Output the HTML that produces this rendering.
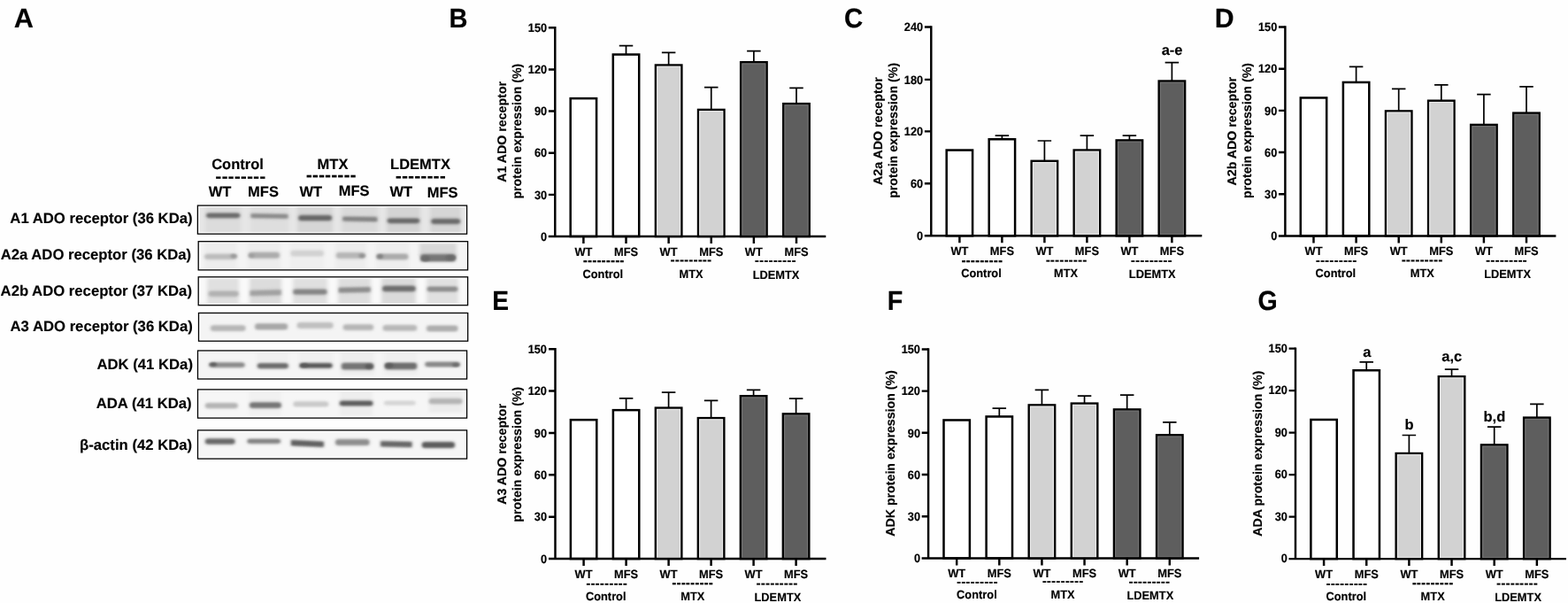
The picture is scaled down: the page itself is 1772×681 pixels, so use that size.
<!DOCTYPE html>
<html lang="en">
<head>
<meta charset="utf-8">
<title>Figure</title>
<style>
html,body{margin:0;padding:0;background:#fefefe;}
body{width:1772px;height:681px;overflow:hidden;}
svg{display:block;}
text{font-family:"Liberation Sans", sans-serif;font-weight:bold;fill:#000;text-rendering:geometricPrecision;stroke:#000;stroke-width:0.15px;stroke-linejoin:round;}
.ds,.hds{stroke:none;}
.tk{font-size:12.9px;}
.tl{font-size:12.8px;}
.ds{font-size:15.6px;}
.gp{font-size:12.85px;}
.yl{font-size:14.2px;}
.an{font-size:16.5px;}
.pl{font-size:29.5px;}
.bl{font-size:16.7px;}
.hd{font-size:16.5px;}
.hds{font-size:21.4px;}
</style>
</head>
<body>
<svg width="1772" height="681" viewBox="0 0 1772 681">
<rect width="1772" height="681" fill="#fefefe"/>
<defs>
<filter id="b1" x="-20%" y="-150%" width="140%" height="400%"><feGaussianBlur stdDeviation="1.8 1.25"/></filter>
<filter id="b2" x="-30%" y="-30%" width="160%" height="160%"><feGaussianBlur stdDeviation="2.2 1.6"/></filter>
<filter id="b4" x="-20%" y="-150%" width="140%" height="400%"><feGaussianBlur stdDeviation="2.0 1.8"/></filter>
<filter id="b3" x="-50%" y="-50%" width="200%" height="200%"><feGaussianBlur stdDeviation="1.4 0.9"/></filter>
<clipPath id="cp0"><rect x="225.4" y="234.1" width="300.2" height="28.1"/></clipPath>
<clipPath id="cp1"><rect x="226.2" y="274.7" width="300.4" height="28.2"/></clipPath>
<clipPath id="cp2"><rect x="226.2" y="314.8" width="300.4" height="27.9"/></clipPath>
<clipPath id="cp3"><rect x="226.5" y="355.5" width="300.2" height="27.7"/></clipPath>
<clipPath id="cp4"><rect x="225.5" y="398" width="300.1" height="28"/></clipPath>
<clipPath id="cp5"><rect x="225.5" y="441.9" width="300.1" height="28.2"/></clipPath>
<clipPath id="cp6"><rect x="225.5" y="487.9" width="300.1" height="28.2"/></clipPath>
</defs>
<g id="panelA">
<text class="pl" transform="translate(15.75 30.8) scale(1.041 1.04)">A</text>
<text class="hd" transform="translate(268.5 191) scale(1 1.01)" text-anchor="middle">Control</text>
<text class="hd" transform="translate(376 191) scale(1 1.01)" text-anchor="middle">MTX</text>
<text class="hd" transform="translate(475 191) scale(1 1.01)" text-anchor="middle">LDEMTX</text>
<text class="hds" transform="translate(271.8 206) scale(1 0.966)" text-anchor="middle">--------</text>
<text class="hds" transform="translate(374.2 205) scale(1 1.073)" text-anchor="middle">--------</text>
<text class="hds" transform="translate(475.3 206) scale(1 1.038)" text-anchor="middle">--------</text>
<text class="hd" transform="translate(248.6 222) scale(1 1.01)" text-anchor="middle">WT</text>
<text class="hd" transform="translate(297.5 222) scale(1 1.01)" text-anchor="middle">MFS</text>
<text class="hd" transform="translate(351.3 222) scale(1 1.01)" text-anchor="middle">WT</text>
<text class="hd" transform="translate(400.1 221) scale(1 1.01)" text-anchor="middle">MFS</text>
<text class="hd" transform="translate(453.3 222) scale(1 1.01)" text-anchor="middle">WT</text>
<text class="hd" transform="translate(500.1 223) scale(1 1.01)" text-anchor="middle">MFS</text>
<text class="bl" transform="translate(217.55 251.7) scale(1 1.0)" text-anchor="end">A1 ADO receptor (36 KDa)</text>
<rect x="223.4" y="232.1" width="304.2" height="32.1" fill="#fdfdfd"/>
<rect x="225.4" y="234.1" width="300.2" height="28.1" fill="#e6e6e6"/>
<g clip-path="url(#cp0)">
<g filter="url(#b2)">
<rect x="232" y="233.1" width="40" height="30.1" fill="#dcdcdc"/>
<rect x="283" y="233.1" width="43" height="30.1" fill="#dedede"/>
<rect x="336" y="233.1" width="40" height="30.1" fill="#d6d6d6"/>
<rect x="386" y="233.1" width="41" height="30.1" fill="#dadada"/>
<rect x="437" y="233.1" width="38" height="30.1" fill="#d4d4d4"/>
<rect x="486" y="233.1" width="35" height="30.1" fill="#d6d6d6"/>
</g>
<g filter="url(#b4)" opacity="0.4">
<rect x="233.4" y="239.7" width="37.6" height="7.2" rx="2.5" fill="#6c6c6c"/>
<path d="M283.8 240.4L325.2 241L325.2 247.6L283.8 247Z" fill="#8c8c8c"/>
<rect x="337.6" y="242.2" width="37.1" height="7.8" rx="2.5" fill="#666666"/>
<path d="M387.6 243.7L426.1 244.3L426.1 251.1L387.6 250.5Z" fill="#848484"/>
<rect x="438" y="245.7" width="35.9" height="7.2" rx="2.5" fill="#6a6a6a"/>
<rect x="487.6" y="246.2" width="32.2" height="7.6" rx="2.5" fill="#6a6a6a"/>
</g>
<g filter="url(#b1)">
<rect x="233.4" y="240.9" width="37.6" height="4.8" rx="2.4" fill="#6c6c6c"/>
<path d="M283.8 241.6L325.2 242.2L325.2 246.4L283.8 245.8Z" fill="#8c8c8c"/>
<rect x="337.6" y="243.4" width="37.1" height="5.4" rx="2.5" fill="#666666"/>
<path d="M387.6 244.9L426.1 245.5L426.1 249.9L387.6 249.3Z" fill="#848484"/>
<rect x="438" y="246.9" width="35.9" height="4.8" rx="2.4" fill="#6a6a6a"/>
<rect x="487.6" y="247.4" width="32.2" height="5.2" rx="2.5" fill="#6a6a6a"/>
</g>
</g>
<rect x="223.4" y="232.1" width="304.2" height="32.1" fill="none" stroke="#000" stroke-width="1.3"/>
<text class="bl" transform="translate(216.15 293.3) scale(1 1.0)" text-anchor="end">A2a ADO receptor (36 KDa)</text>
<rect x="224.2" y="272.7" width="304.4" height="32.2" fill="#fdfdfd"/>
<rect x="226.2" y="274.7" width="300.4" height="28.2" fill="#f4f4f4"/>
<g clip-path="url(#cp1)">
<g filter="url(#b2)">
<rect x="231" y="273.7" width="37" height="30.2" fill="#ededed"/>
<rect x="280" y="273.7" width="37" height="30.2" fill="#ededed"/>
<rect x="328" y="273.7" width="38" height="30.2" fill="#efefef"/>
<rect x="379" y="273.7" width="35" height="30.2" fill="#ededed"/>
<rect x="425" y="273.7" width="37" height="30.2" fill="#eeeeee"/>
<rect x="474" y="275" width="42" height="15" fill="#d8d8d8"/>
</g>
<g filter="url(#b4)" opacity="0.4">
<rect x="231.5" y="286" width="35.8" height="7.6" rx="2.5" fill="#bcbcbc"/>
<rect x="281.1" y="284.1" width="34.5" height="8.4" rx="2.5" fill="#acacac"/>
<rect x="328.8" y="282" width="36.7" height="8.2" rx="2.5" fill="#d2d2d2"/>
<rect x="380.2" y="284.3" width="32.2" height="8.4" rx="2.5" fill="#b6b6b6"/>
<rect x="425.8" y="285.7" width="35.2" height="8.2" rx="2.5" fill="#ababab"/>
<rect x="475.5" y="286.3" width="39" height="10" rx="2.5" fill="#767676"/>
</g>
<g filter="url(#b1)">
<rect x="231.5" y="287.2" width="35.8" height="5.2" rx="2.5" fill="#bcbcbc"/>
<rect x="281.1" y="285.3" width="34.5" height="6" rx="2.5" fill="#acacac"/>
<rect x="328.8" y="283.2" width="36.7" height="5.8" rx="2.5" fill="#d2d2d2"/>
<rect x="380.2" y="285.5" width="32.2" height="6" rx="2.5" fill="#b6b6b6"/>
<rect x="425.8" y="286.9" width="35.2" height="5.8" rx="2.5" fill="#ababab"/>
<rect x="475.5" y="287.5" width="39" height="7.6" rx="2.5" fill="#767676"/>
</g>
<g filter="url(#b3)">
<ellipse cx="264" cy="289.2" rx="3.5" ry="2.4" fill="#9a9a9a"/>
<ellipse cx="284.5" cy="288.6" rx="3" ry="2.2" fill="#9c9c9c"/>
<ellipse cx="409" cy="288.8" rx="3.5" ry="2.4" fill="#909090"/>
<ellipse cx="429.5" cy="289.5" rx="3.5" ry="2.6" fill="#808080"/>
<ellipse cx="509" cy="291" rx="6" ry="3" fill="#6a6a6a"/>
<ellipse cx="481" cy="292" rx="5" ry="3" fill="#6a6a6a"/>
</g>
</g>
<rect x="224.2" y="272.7" width="304.4" height="32.2" fill="none" stroke="#000" stroke-width="1.3"/>
<text class="bl" transform="translate(216.95 333.7) scale(1 1.0)" text-anchor="end">A2b ADO receptor (37 KDa)</text>
<rect x="224.2" y="312.8" width="304.4" height="31.9" fill="#fdfdfd"/>
<rect x="226.2" y="314.8" width="300.4" height="27.9" fill="#f9f9f9"/>
<g clip-path="url(#cp2)">
<g filter="url(#b2)">
<rect x="234" y="313.8" width="36" height="29.9" fill="#e0e0e0"/>
<rect x="282" y="313.8" width="36" height="29.9" fill="#dcdcdc"/>
<rect x="331" y="313.8" width="39" height="29.9" fill="#e0e0e0"/>
<rect x="382" y="313.8" width="37" height="29.9" fill="#dedede"/>
<rect x="431" y="313.8" width="39" height="29.9" fill="#dadada"/>
<rect x="482" y="313.8" width="36" height="29.9" fill="#e0e0e0"/>
</g>
<g filter="url(#b4)" opacity="0.4">
<rect x="236.1" y="327.9" width="33.1" height="7.8" rx="2.5" fill="#b2b2b2"/>
<path d="M282.9 327.2L317.4 326.4L317.4 334.2L282.9 335Z" fill="#a2a2a2"/>
<rect x="331.6" y="325.8" width="37.6" height="7.6" rx="2.5" fill="#868686"/>
<path d="M383 324L418.4 323.4L418.4 330.8L383 331.4Z" fill="#8e8e8e"/>
<rect x="432.5" y="322" width="36.8" height="8" rx="2.5" fill="#6e6e6e"/>
<rect x="483" y="322.9" width="34" height="7.2" rx="2.5" fill="#8e8e8e"/>
</g>
<g filter="url(#b1)">
<rect x="236.1" y="329.1" width="33.1" height="5.4" rx="2.5" fill="#b2b2b2"/>
<path d="M282.9 328.4L317.4 327.6L317.4 333L282.9 333.8Z" fill="#a2a2a2"/>
<rect x="331.6" y="327" width="37.6" height="5.2" rx="2.5" fill="#868686"/>
<path d="M383 325.2L418.4 324.6L418.4 329.6L383 330.2Z" fill="#8e8e8e"/>
<rect x="432.5" y="323.2" width="36.8" height="5.6" rx="2.5" fill="#6e6e6e"/>
<rect x="483" y="324.1" width="34" height="4.8" rx="2.4" fill="#8e8e8e"/>
</g>
</g>
<rect x="224.2" y="312.8" width="304.4" height="31.9" fill="none" stroke="#000" stroke-width="1.3"/>
<text class="bl" transform="translate(217.75 374.1) scale(1 1.0)" text-anchor="end">A3 ADO receptor (36 KDa)</text>
<rect x="224.5" y="353.5" width="304.2" height="31.7" fill="#fdfdfd"/>
<rect x="226.5" y="355.5" width="300.2" height="27.7" fill="#f4f4f4"/>
<g clip-path="url(#cp3)">
<g filter="url(#b2)">
</g>
<g filter="url(#b4)" opacity="0.4">
<rect x="238.3" y="366.6" width="38.8" height="8" rx="2.5" fill="#b6b6b6"/>
<rect x="288.5" y="364.5" width="36.2" height="8.6" rx="2.5" fill="#a8a8a8"/>
<rect x="336" y="363.2" width="40.2" height="8.6" rx="2.5" fill="#c0c0c0"/>
<rect x="388.1" y="365.5" width="33.6" height="8.2" rx="2.5" fill="#b6b6b6"/>
<rect x="433" y="366.3" width="37.8" height="8.2" rx="2.5" fill="#b8b8b8"/>
<rect x="482.4" y="366.7" width="34.7" height="8.4" rx="2.5" fill="#aeaeae"/>
</g>
<g filter="url(#b1)">
<rect x="238.3" y="367.8" width="38.8" height="5.6" rx="2.5" fill="#b6b6b6"/>
<rect x="288.5" y="365.7" width="36.2" height="6.2" rx="2.5" fill="#a8a8a8"/>
<rect x="336" y="364.4" width="40.2" height="6.2" rx="2.5" fill="#c0c0c0"/>
<rect x="388.1" y="366.7" width="33.6" height="5.8" rx="2.5" fill="#b6b6b6"/>
<rect x="433" y="367.5" width="37.8" height="5.8" rx="2.5" fill="#b8b8b8"/>
<rect x="482.4" y="367.9" width="34.7" height="6" rx="2.5" fill="#aeaeae"/>
</g>
</g>
<rect x="224.5" y="353.5" width="304.2" height="31.7" fill="none" stroke="#000" stroke-width="1.3"/>
<text class="bl" transform="translate(217.95 417) scale(1 1.0)" text-anchor="end">ADK (41 KDa)</text>
<rect x="223.5" y="396" width="304.1" height="32" fill="#fdfdfd"/>
<rect x="225.5" y="398" width="300.1" height="28" fill="#f5f5f5"/>
<g clip-path="url(#cp4)">
<g filter="url(#b2)">
<rect x="290" y="397" width="36" height="13" fill="#f0f0f0"/>
<rect x="338" y="397" width="38" height="13" fill="#f0f0f0"/>
<rect x="385" y="397" width="38" height="27" fill="#eeeeee"/>
<rect x="434" y="397" width="38" height="27" fill="#efefef"/>
</g>
<g filter="url(#b4)" opacity="0.4">
<rect x="236.7" y="408.6" width="39.6" height="7.2" rx="2.5" fill="#8a8a8a"/>
<rect x="291.1" y="409.4" width="34.4" height="7.6" rx="2.5" fill="#6c6c6c"/>
<rect x="338.7" y="409.3" width="36.7" height="7.2" rx="2.5" fill="#585858"/>
<rect x="386.2" y="409" width="35.5" height="9.2" rx="2.5" fill="#747474"/>
<rect x="435.1" y="408.9" width="35.7" height="9" rx="2.5" fill="#6e6e6e"/>
<rect x="480.6" y="407.9" width="38.8" height="7.2" rx="2.5" fill="#8a8a8a"/>
</g>
<g filter="url(#b1)">
<rect x="236.7" y="409.8" width="39.6" height="4.8" rx="2.4" fill="#8a8a8a"/>
<rect x="291.1" y="410.6" width="34.4" height="5.2" rx="2.5" fill="#6c6c6c"/>
<rect x="338.7" y="410.5" width="36.7" height="4.8" rx="2.4" fill="#585858"/>
<rect x="386.2" y="410.2" width="35.5" height="6.8" rx="2.5" fill="#747474"/>
<rect x="435.1" y="410.1" width="35.7" height="6.6" rx="2.5" fill="#6e6e6e"/>
<rect x="480.6" y="409.1" width="38.8" height="4.8" rx="2.4" fill="#8a8a8a"/>
</g>
<g filter="url(#b3)">
<ellipse cx="241" cy="411.6" rx="4" ry="2" fill="#5a5a5a"/>
<ellipse cx="344" cy="412.6" rx="4" ry="2" fill="#585858"/>
<ellipse cx="417" cy="413.8" rx="4.5" ry="2.6" fill="#5a5a5a"/>
<ellipse cx="440" cy="412.8" rx="4.5" ry="2.6" fill="#5c5c5c"/>
<ellipse cx="515" cy="412" rx="4" ry="2" fill="#6a6a6a"/>
</g>
</g>
<rect x="223.5" y="396" width="304.1" height="32" fill="none" stroke="#000" stroke-width="1.3"/>
<text class="bl" transform="translate(216.6 460.55) scale(1 1.0)" text-anchor="end">ADA (41 KDa)</text>
<rect x="223.5" y="439.9" width="304.1" height="32.2" fill="#fdfdfd"/>
<rect x="225.5" y="441.9" width="300.1" height="28.2" fill="#f6f6f6"/>
<g clip-path="url(#cp5)">
<g filter="url(#b2)">
<rect x="281" y="441" width="37" height="29" fill="#f1f1f1"/>
<rect x="384" y="441" width="37" height="29" fill="#eeeeee"/>
<rect x="485" y="441" width="38" height="25" fill="#ececec"/>
</g>
<g filter="url(#b4)" opacity="0.4">
<rect x="232.2" y="454.3" width="36.2" height="7.6" rx="2.5" fill="#b4b4b4"/>
<rect x="282.4" y="453.6" width="35.1" height="8" rx="2.5" fill="#767676"/>
<rect x="331.8" y="452.5" width="39.1" height="7.6" rx="2.5" fill="#cacaca"/>
<rect x="384.1" y="451.7" width="37" height="7.4" rx="2.5" fill="#5e5e5e"/>
<rect x="434.3" y="451.9" width="34.9" height="6.6" rx="2.5" fill="#d6d6d6"/>
<rect x="485.1" y="449.3" width="37" height="7.6" rx="2.5" fill="#b4b4b4"/>
</g>
<g filter="url(#b1)">
<rect x="232.2" y="455.5" width="36.2" height="5.2" rx="2.5" fill="#b4b4b4"/>
<rect x="282.4" y="454.8" width="35.1" height="5.6" rx="2.5" fill="#767676"/>
<rect x="331.8" y="453.7" width="39.1" height="5.2" rx="2.5" fill="#cacaca"/>
<rect x="384.1" y="452.9" width="37" height="5" rx="2.5" fill="#5e5e5e"/>
<rect x="434.3" y="453.1" width="34.9" height="4.2" rx="2.1" fill="#d6d6d6"/>
<rect x="485.1" y="450.5" width="37" height="5.2" rx="2.5" fill="#b4b4b4"/>
</g>
</g>
<rect x="223.5" y="439.9" width="304.1" height="32.2" fill="none" stroke="#000" stroke-width="1.3"/>
<text class="bl" transform="translate(217.1 507.5) scale(1 1.0)" text-anchor="end">β-actin (42 KDa)</text>
<rect x="223.5" y="485.9" width="304.1" height="32.2" fill="#fdfdfd"/>
<rect x="225.5" y="487.9" width="300.1" height="28.2" fill="#f6f6f6"/>
<g clip-path="url(#cp6)">
<g filter="url(#b2)">
</g>
<g filter="url(#b4)" opacity="0.4">
<rect x="232.2" y="494.6" width="33" height="7.8" rx="2.5" fill="#6a6a6a"/>
<rect x="279.7" y="494.9" width="37" height="6.8" rx="2.5" fill="#848484"/>
<path d="M329.2 496.1L365.6 497.7L365.6 505.7L329.2 504.1Z" fill="#626262"/>
<rect x="379.4" y="495.3" width="37.8" height="8.4" rx="2.5" fill="#8e8e8e"/>
<path d="M430.4 497.2L465.3 498L465.3 506L430.4 505.2Z" fill="#686868"/>
<rect x="477.2" y="498.2" width="36.4" height="8.4" rx="2.5" fill="#5c5c5c"/>
</g>
<g filter="url(#b1)">
<rect x="232.2" y="495.8" width="33" height="5.4" rx="2.5" fill="#6a6a6a"/>
<rect x="279.7" y="496.1" width="37" height="4.4" rx="2.2" fill="#848484"/>
<path d="M329.2 497.3L365.6 498.9L365.6 504.5L329.2 502.9Z" fill="#626262"/>
<rect x="379.4" y="496.5" width="37.8" height="6" rx="2.5" fill="#8e8e8e"/>
<path d="M430.4 498.4L465.3 499.2L465.3 504.8L430.4 504Z" fill="#686868"/>
<rect x="477.2" y="499.4" width="36.4" height="6" rx="2.5" fill="#5c5c5c"/>
</g>
</g>
<rect x="223.5" y="485.9" width="304.1" height="32.2" fill="none" stroke="#000" stroke-width="1.3"/>
</g>
<g class="chart" id="chartB">
<rect x="644.7" y="111.15" width="29.4" height="155.85" fill="#ffffff" stroke="#000" stroke-width="2.5"/>
<path d="M707.52 61.55V51.7M699.77 51.7H715.27" stroke="#000" stroke-width="1.7" fill="none"/>
<rect x="692.82" y="61.55" width="29.4" height="205.45" fill="#ffffff" stroke="#000" stroke-width="2.5"/>
<path d="M755.64 73.55V59.4M747.89 59.4H763.39" stroke="#000" stroke-width="1.7" fill="none"/>
<rect x="740.94" y="73.55" width="29.4" height="193.45" fill="#d2d2d2" stroke="#000" stroke-width="2.5"/>
<rect x="742.64" y="75.25" width="26" height="190.35" fill="none" stroke="#e9e9e9" stroke-width="1.1"/>
<path d="M803.76 123.95V98.6M796.01 98.6H811.51" stroke="#000" stroke-width="1.7" fill="none"/>
<rect x="789.06" y="123.95" width="29.4" height="143.05" fill="#d2d2d2" stroke="#000" stroke-width="2.5"/>
<rect x="790.76" y="125.65" width="26" height="139.95" fill="none" stroke="#e9e9e9" stroke-width="1.1"/>
<path d="M851.88 70.25V57.7M844.13 57.7H859.63" stroke="#000" stroke-width="1.7" fill="none"/>
<rect x="837.18" y="70.25" width="29.4" height="196.75" fill="#5e5e5e" stroke="#000" stroke-width="2.5"/>
<rect x="838.88" y="71.95" width="26" height="193.65" fill="none" stroke="#747474" stroke-width="1.1"/>
<path d="M900 117.15V99.4M892.25 99.4H907.75" stroke="#000" stroke-width="1.7" fill="none"/>
<rect x="885.3" y="117.15" width="29.4" height="149.85" fill="#5e5e5e" stroke="#000" stroke-width="2.5"/>
<rect x="887" y="118.85" width="26" height="146.75" fill="none" stroke="#747474" stroke-width="1.1"/>
<path d="M627.3 30.02V267M619.8 267H933.3" stroke="#000" stroke-width="2.45" fill="none"/>
<text class="tl" transform="translate(618.2 271.7) scale(1 1.06)" text-anchor="end">0</text>
<text class="tl" transform="translate(618.2 224.55) scale(1 1.06)" text-anchor="end">30</text>
<text class="tl" transform="translate(618.2 177.4) scale(1 1.06)" text-anchor="end">60</text>
<text class="tl" transform="translate(618.2 130.25) scale(1 1.06)" text-anchor="end">90</text>
<text class="tl" transform="translate(618.2 83.1) scale(1 1.06)" text-anchor="end">120</text>
<text class="tl" transform="translate(618.2 35.95) scale(1 1.06)" text-anchor="end">150</text>
<path d="M619.9 219.85H627.3M619.9 172.7H627.3M619.9 125.55H627.3M619.9 78.4H627.3M619.9 31.25H627.3M659.4 267V275M707.52 267V275M755.64 267V275M803.76 267V275M851.88 267V275M900 267V275" stroke="#000" stroke-width="2.45" fill="none"/>
<text class="tk" transform="translate(659.4 289) scale(1 1.045)" text-anchor="middle">WT</text>
<text class="tk" transform="translate(707.52 289) scale(1 1.045)" text-anchor="middle">MFS</text>
<text class="tk" transform="translate(755.64 289) scale(1 1.045)" text-anchor="middle">WT</text>
<text class="tk" transform="translate(803.76 289) scale(1 1.045)" text-anchor="middle">MFS</text>
<text class="tk" transform="translate(851.88 289) scale(1 1.045)" text-anchor="middle">WT</text>
<text class="tk" transform="translate(900 289) scale(1 1.045)" text-anchor="middle">MFS</text>
<text class="ds" transform="translate(682.2 300) scale(1 1.190)" text-anchor="middle">---------</text>
<text class="gp" transform="translate(681.3 314) scale(1 1.045)" text-anchor="middle">Control</text>
<text class="ds" transform="translate(780.9 299) scale(1 1.122)" text-anchor="middle">---------</text>
<text class="gp" transform="translate(781 314) scale(1 1.045)" text-anchor="middle">MTX</text>
<text class="ds" transform="translate(876.24 299) scale(1 0.985)" text-anchor="middle">---------</text>
<text class="gp" transform="translate(877.04 315) scale(1 1.045)" text-anchor="middle">LDEMTX</text>
<text class="yl" transform="translate(572.1 148.82) rotate(-90) scale(1 1.0)" text-anchor="middle">A1 ADO receptor</text>
<text class="yl" transform="translate(589.1 148.12) rotate(-90) scale(1 1.0)" text-anchor="middle">protein expression (%)</text>
<text class="pl" transform="translate(507.42 30.8) scale(0.984 1.04)">B</text>
</g>
<g class="chart" id="chartC">
<rect x="1069.7" y="169.55" width="29.4" height="96.75" fill="#ffffff" stroke="#000" stroke-width="2.5"/>
<path d="M1132.4 157.25V153.2M1124.65 153.2H1140.15" stroke="#000" stroke-width="1.7" fill="none"/>
<rect x="1117.7" y="157.25" width="29.4" height="109.05" fill="#ffffff" stroke="#000" stroke-width="2.5"/>
<path d="M1180.4 181.85V159M1172.65 159H1188.15" stroke="#000" stroke-width="1.7" fill="none"/>
<rect x="1165.7" y="181.85" width="29.4" height="84.45" fill="#d2d2d2" stroke="#000" stroke-width="2.5"/>
<rect x="1167.4" y="183.55" width="26" height="81.35" fill="none" stroke="#e9e9e9" stroke-width="1.1"/>
<path d="M1228.4 169.55V153.2M1220.65 153.2H1236.15" stroke="#000" stroke-width="1.7" fill="none"/>
<rect x="1213.7" y="169.55" width="29.4" height="96.75" fill="#d2d2d2" stroke="#000" stroke-width="2.5"/>
<rect x="1215.4" y="171.25" width="26" height="93.65" fill="none" stroke="#e9e9e9" stroke-width="1.1"/>
<path d="M1276.4 158.45V153.2M1268.65 153.2H1284.15" stroke="#000" stroke-width="1.7" fill="none"/>
<rect x="1261.7" y="158.45" width="29.4" height="107.85" fill="#5e5e5e" stroke="#000" stroke-width="2.5"/>
<rect x="1263.4" y="160.15" width="26" height="104.75" fill="none" stroke="#747474" stroke-width="1.1"/>
<path d="M1324.4 91.55V70.6M1316.65 70.6H1332.15" stroke="#000" stroke-width="1.7" fill="none"/>
<rect x="1309.7" y="91.55" width="29.4" height="174.75" fill="#5e5e5e" stroke="#000" stroke-width="2.5"/>
<rect x="1311.4" y="93.25" width="26" height="171.65" fill="none" stroke="#747474" stroke-width="1.1"/>
<path d="M1052.3 29.17V266.3M1044.8 266.3H1358.3" stroke="#000" stroke-width="2.45" fill="none"/>
<text class="tl" transform="translate(1043.2 271) scale(1 1.06)" text-anchor="end">0</text>
<text class="tl" transform="translate(1043.2 212.03) scale(1 1.06)" text-anchor="end">60</text>
<text class="tl" transform="translate(1043.2 153.05) scale(1 1.06)" text-anchor="end">120</text>
<text class="tl" transform="translate(1043.2 94.58) scale(1 1.06)" text-anchor="end">180</text>
<text class="tl" transform="translate(1043.2 35.1) scale(1 1.06)" text-anchor="end">240</text>
<path d="M1044.9 207.33H1052.3M1044.9 148.35H1052.3M1044.9 89.88H1052.3M1044.9 30.4H1052.3M1084.4 266.3V274.3M1132.4 266.3V274.3M1180.4 266.3V274.3M1228.4 266.3V274.3M1276.4 266.3V274.3M1324.4 266.3V274.3" stroke="#000" stroke-width="2.45" fill="none"/>
<text class="tk" transform="translate(1084.4 288) scale(1 1.045)" text-anchor="middle">WT</text>
<text class="tk" transform="translate(1132.4 288) scale(1 1.045)" text-anchor="middle">MFS</text>
<text class="tk" transform="translate(1180.4 288) scale(1 1.045)" text-anchor="middle">WT</text>
<text class="tk" transform="translate(1228.4 288) scale(1 1.045)" text-anchor="middle">MFS</text>
<text class="tk" transform="translate(1276.4 288) scale(1 1.045)" text-anchor="middle">WT</text>
<text class="tk" transform="translate(1324.4 288) scale(1 1.045)" text-anchor="middle">MFS</text>
<text class="ds" transform="translate(1109.76 300) scale(1 1.190)" text-anchor="middle">---------</text>
<text class="gp" transform="translate(1108.96 313) scale(1 1.045)" text-anchor="middle">Control</text>
<text class="ds" transform="translate(1205 299) scale(1 1.075)" text-anchor="middle">---------</text>
<text class="gp" transform="translate(1204.6 313) scale(1 1.045)" text-anchor="middle">MTX</text>
<text class="ds" transform="translate(1301.24 299) scale(1 0.985)" text-anchor="middle">---------</text>
<text class="gp" transform="translate(1302.24 314) scale(1 1.045)" text-anchor="middle">LDEMTX</text>
<text class="yl" transform="translate(996.9 148.05) rotate(-90) scale(1 1.0)" text-anchor="middle">A2a ADO receptor</text>
<text class="yl" transform="translate(1014.1 147.35) rotate(-90) scale(1 1.0)" text-anchor="middle">protein expression (%)</text>
<text class="an" transform="translate(1324.6 61.6) scale(1 1.0)" text-anchor="middle">a-e</text>
<text class="pl" transform="translate(954 31) scale(1.0 1.05)">C</text>
</g>
<g class="chart" id="chartD">
<rect x="1469.8" y="110.45" width="29.4" height="155.95" fill="#ffffff" stroke="#000" stroke-width="2.5"/>
<path d="M1532.6 92.95V75.4M1524.85 75.4H1540.35" stroke="#000" stroke-width="1.7" fill="none"/>
<rect x="1517.9" y="92.95" width="29.4" height="173.45" fill="#ffffff" stroke="#000" stroke-width="2.5"/>
<path d="M1580.7 125.45V100.4M1572.95 100.4H1588.45" stroke="#000" stroke-width="1.7" fill="none"/>
<rect x="1566" y="125.45" width="29.4" height="140.95" fill="#d2d2d2" stroke="#000" stroke-width="2.5"/>
<rect x="1567.7" y="127.15" width="26" height="137.85" fill="none" stroke="#e9e9e9" stroke-width="1.1"/>
<path d="M1628.8 113.75V95.9M1621.05 95.9H1636.55" stroke="#000" stroke-width="1.7" fill="none"/>
<rect x="1614.1" y="113.75" width="29.4" height="152.65" fill="#d2d2d2" stroke="#000" stroke-width="2.5"/>
<rect x="1615.8" y="115.45" width="26" height="149.55" fill="none" stroke="#e9e9e9" stroke-width="1.1"/>
<path d="M1676.9 140.95V106.6M1669.15 106.6H1684.65" stroke="#000" stroke-width="1.7" fill="none"/>
<rect x="1662.2" y="140.95" width="29.4" height="125.45" fill="#5e5e5e" stroke="#000" stroke-width="2.5"/>
<rect x="1663.9" y="142.65" width="26" height="122.35" fill="none" stroke="#747474" stroke-width="1.1"/>
<path d="M1725 127.65V97.9M1717.25 97.9H1732.75" stroke="#000" stroke-width="1.7" fill="none"/>
<rect x="1710.3" y="127.65" width="29.4" height="138.75" fill="#5e5e5e" stroke="#000" stroke-width="2.5"/>
<rect x="1712" y="129.35" width="26" height="135.65" fill="none" stroke="#747474" stroke-width="1.1"/>
<path d="M1452.4 29.27V266.4M1444.9 266.4H1758.4" stroke="#000" stroke-width="2.45" fill="none"/>
<text class="tl" transform="translate(1443.3 271.1) scale(1 1.06)" text-anchor="end">0</text>
<text class="tl" transform="translate(1443.3 223.92) scale(1 1.06)" text-anchor="end">30</text>
<text class="tl" transform="translate(1443.3 176.74) scale(1 1.06)" text-anchor="end">60</text>
<text class="tl" transform="translate(1443.3 129.56) scale(1 1.06)" text-anchor="end">90</text>
<text class="tl" transform="translate(1443.3 82.38) scale(1 1.06)" text-anchor="end">120</text>
<text class="tl" transform="translate(1443.3 35.2) scale(1 1.06)" text-anchor="end">150</text>
<path d="M1445 219.22H1452.4M1445 172.04H1452.4M1445 124.86H1452.4M1445 77.68H1452.4M1445 30.5H1452.4M1484.5 266.4V274.4M1532.6 266.4V274.4M1580.7 266.4V274.4M1628.8 266.4V274.4M1676.9 266.4V274.4M1725 266.4V274.4" stroke="#000" stroke-width="2.45" fill="none"/>
<text class="tk" transform="translate(1484.5 288) scale(1 1.045)" text-anchor="middle">WT</text>
<text class="tk" transform="translate(1532.6 288) scale(1 1.045)" text-anchor="middle">MFS</text>
<text class="tk" transform="translate(1580.7 288) scale(1 1.045)" text-anchor="middle">WT</text>
<text class="tk" transform="translate(1628.8 288) scale(1 1.045)" text-anchor="middle">MFS</text>
<text class="tk" transform="translate(1676.9 288) scale(1 1.045)" text-anchor="middle">WT</text>
<text class="tk" transform="translate(1725 288) scale(1 1.045)" text-anchor="middle">MFS</text>
<text class="ds" transform="translate(1510.11 299) scale(1 0.985)" text-anchor="middle">---------</text>
<text class="gp" transform="translate(1509.36 313) scale(1 1.045)" text-anchor="middle">Control</text>
<text class="ds" transform="translate(1607 299) scale(1 1.122)" text-anchor="middle">---------</text>
<text class="gp" transform="translate(1607.25 313) scale(1 1.045)" text-anchor="middle">MTX</text>
<text class="ds" transform="translate(1702.44 299) scale(1 1.030)" text-anchor="middle">---------</text>
<text class="gp" transform="translate(1703.59 314) scale(1 1.045)" text-anchor="middle">LDEMTX</text>
<text class="yl" transform="translate(1396.9 148.15) rotate(-90) scale(1 1.0)" text-anchor="middle">A2b ADO receptor</text>
<text class="yl" transform="translate(1414.1 147.45) rotate(-90) scale(1 1.0)" text-anchor="middle">protein expression (%)</text>
<text class="pl" transform="translate(1372.84 30.85) scale(1.028 1.04)">D</text>
</g>
<g class="chart" id="chartE">
<rect x="644.9" y="474.15" width="29.4" height="156.9" fill="#ffffff" stroke="#000" stroke-width="2.5"/>
<path d="M707.6 463.15V449.9M699.85 449.9H715.35" stroke="#000" stroke-width="1.7" fill="none"/>
<rect x="692.9" y="463.15" width="29.4" height="167.9" fill="#ffffff" stroke="#000" stroke-width="2.5"/>
<path d="M755.6 460.65V443.1M747.85 443.1H763.35" stroke="#000" stroke-width="1.7" fill="none"/>
<rect x="740.9" y="460.65" width="29.4" height="170.4" fill="#d2d2d2" stroke="#000" stroke-width="2.5"/>
<rect x="742.6" y="462.35" width="26" height="167.3" fill="none" stroke="#e9e9e9" stroke-width="1.1"/>
<path d="M803.6 472.15V452.3M795.85 452.3H811.35" stroke="#000" stroke-width="1.7" fill="none"/>
<rect x="788.9" y="472.15" width="29.4" height="158.9" fill="#d2d2d2" stroke="#000" stroke-width="2.5"/>
<rect x="790.6" y="473.85" width="26" height="155.8" fill="none" stroke="#e9e9e9" stroke-width="1.1"/>
<path d="M851.6 447.25V440.4M843.85 440.4H859.35" stroke="#000" stroke-width="1.7" fill="none"/>
<rect x="836.9" y="447.25" width="29.4" height="183.8" fill="#5e5e5e" stroke="#000" stroke-width="2.5"/>
<rect x="838.6" y="448.95" width="26" height="180.7" fill="none" stroke="#747474" stroke-width="1.1"/>
<path d="M899.6 467.45V450.1M891.85 450.1H907.35" stroke="#000" stroke-width="1.7" fill="none"/>
<rect x="884.9" y="467.45" width="29.4" height="163.6" fill="#5e5e5e" stroke="#000" stroke-width="2.5"/>
<rect x="886.6" y="469.15" width="26" height="160.5" fill="none" stroke="#747474" stroke-width="1.1"/>
<path d="M627.5 392.97V631.05M620 631.05H933.5" stroke="#000" stroke-width="2.45" fill="none"/>
<text class="tl" transform="translate(618 635.75) scale(1 1.06)" text-anchor="end">0</text>
<text class="tl" transform="translate(618 588.38) scale(1 1.06)" text-anchor="end">30</text>
<text class="tl" transform="translate(618 541.01) scale(1 1.06)" text-anchor="end">60</text>
<text class="tl" transform="translate(618 493.64) scale(1 1.06)" text-anchor="end">90</text>
<text class="tl" transform="translate(618 446.27) scale(1 1.06)" text-anchor="end">120</text>
<text class="tl" transform="translate(618 398.9) scale(1 1.06)" text-anchor="end">150</text>
<path d="M620.1 583.68H627.5M620.1 536.31H627.5M620.1 488.94H627.5M620.1 441.57H627.5M620.1 394.2H627.5M659.6 631.05V639.05M707.6 631.05V639.05M755.6 631.05V639.05M803.6 631.05V639.05M851.6 631.05V639.05M899.6 631.05V639.05" stroke="#000" stroke-width="2.45" fill="none"/>
<text class="tk" transform="translate(659.6 653) scale(1 1.045)" text-anchor="middle">WT</text>
<text class="tk" transform="translate(707.6 653) scale(1 1.045)" text-anchor="middle">MFS</text>
<text class="tk" transform="translate(755.6 653) scale(1 1.045)" text-anchor="middle">WT</text>
<text class="tk" transform="translate(803.6 653) scale(1 1.045)" text-anchor="middle">MFS</text>
<text class="tk" transform="translate(851.6 653) scale(1 1.045)" text-anchor="middle">WT</text>
<text class="tk" transform="translate(899.6 653) scale(1 1.045)" text-anchor="middle">MFS</text>
<text class="ds" transform="translate(685.61 664) scale(1 1.040)" text-anchor="middle">---------</text>
<text class="gp" transform="translate(684.71 678) scale(1 1.045)" text-anchor="middle">Control</text>
<text class="ds" transform="translate(782.65 664) scale(1 1.177)" text-anchor="middle">---------</text>
<text class="gp" transform="translate(782.75 678) scale(1 1.045)" text-anchor="middle">MTX</text>
<text class="ds" transform="translate(877.99 664) scale(1 1.085)" text-anchor="middle">---------</text>
<text class="gp" transform="translate(878.9 679) scale(1 1.045)" text-anchor="middle">LDEMTX</text>
<text class="yl" transform="translate(572.1 512.92) rotate(-90) scale(1 1.0)" text-anchor="middle">A3 ADO receptor</text>
<text class="yl" transform="translate(589.1 513.23) rotate(-90) scale(1 1.0)" text-anchor="middle">protein expression (%)</text>
<text class="pl" transform="translate(556.2 350.15) scale(0.956 1.04)">E</text>
</g>
<g class="chart" id="chartF">
<rect x="1066.5" y="474.45" width="29.4" height="156.05" fill="#ffffff" stroke="#000" stroke-width="2.5"/>
<path d="M1129.32 470.45V461.1M1121.57 461.1H1137.07" stroke="#000" stroke-width="1.7" fill="none"/>
<rect x="1114.62" y="470.45" width="29.4" height="160.05" fill="#ffffff" stroke="#000" stroke-width="2.5"/>
<path d="M1177.44 457.45V440.4M1169.69 440.4H1185.19" stroke="#000" stroke-width="1.7" fill="none"/>
<rect x="1162.74" y="457.45" width="29.4" height="173.05" fill="#d2d2d2" stroke="#000" stroke-width="2.5"/>
<rect x="1164.44" y="459.15" width="26" height="169.95" fill="none" stroke="#e9e9e9" stroke-width="1.1"/>
<path d="M1225.56 455.65V447.1M1217.81 447.1H1233.31" stroke="#000" stroke-width="1.7" fill="none"/>
<rect x="1210.86" y="455.65" width="29.4" height="174.85" fill="#d2d2d2" stroke="#000" stroke-width="2.5"/>
<rect x="1212.56" y="457.35" width="26" height="171.75" fill="none" stroke="#e9e9e9" stroke-width="1.1"/>
<path d="M1273.68 462.45V446.1M1265.93 446.1H1281.43" stroke="#000" stroke-width="1.7" fill="none"/>
<rect x="1258.98" y="462.45" width="29.4" height="168.05" fill="#5e5e5e" stroke="#000" stroke-width="2.5"/>
<rect x="1260.68" y="464.15" width="26" height="164.95" fill="none" stroke="#747474" stroke-width="1.1"/>
<path d="M1321.8 491.35V476.8M1314.05 476.8H1329.55" stroke="#000" stroke-width="1.7" fill="none"/>
<rect x="1307.1" y="491.35" width="29.4" height="139.15" fill="#5e5e5e" stroke="#000" stroke-width="2.5"/>
<rect x="1308.8" y="493.05" width="26" height="136.05" fill="none" stroke="#747474" stroke-width="1.1"/>
<path d="M1049.1 393.17V630.5M1041.6 630.5H1355.1" stroke="#000" stroke-width="2.45" fill="none"/>
<text class="tl" transform="translate(1040 635.2) scale(1 1.06)" text-anchor="end">0</text>
<text class="tl" transform="translate(1040 587.98) scale(1 1.06)" text-anchor="end">30</text>
<text class="tl" transform="translate(1040 540.76) scale(1 1.06)" text-anchor="end">60</text>
<text class="tl" transform="translate(1040 493.54) scale(1 1.06)" text-anchor="end">90</text>
<text class="tl" transform="translate(1040 446.32) scale(1 1.06)" text-anchor="end">120</text>
<text class="tl" transform="translate(1040 399.1) scale(1 1.06)" text-anchor="end">150</text>
<path d="M1041.7 583.28H1049.1M1041.7 536.06H1049.1M1041.7 488.84H1049.1M1041.7 441.62H1049.1M1041.7 394.4H1049.1M1081.2 630.5V638.5M1129.32 630.5V638.5M1177.44 630.5V638.5M1225.56 630.5V638.5M1273.68 630.5V638.5M1321.8 630.5V638.5" stroke="#000" stroke-width="2.45" fill="none"/>
<text class="tk" transform="translate(1081.2 652) scale(1 1.045)" text-anchor="middle">WT</text>
<text class="tk" transform="translate(1129.32 652) scale(1 1.045)" text-anchor="middle">MFS</text>
<text class="tk" transform="translate(1177.44 652) scale(1 1.045)" text-anchor="middle">WT</text>
<text class="tk" transform="translate(1225.56 652) scale(1 1.045)" text-anchor="middle">MFS</text>
<text class="tk" transform="translate(1273.68 652) scale(1 1.045)" text-anchor="middle">WT</text>
<text class="tk" transform="translate(1321.8 652) scale(1 1.045)" text-anchor="middle">MFS</text>
<text class="ds" transform="translate(1104.36 662) scale(1 0.993)" text-anchor="middle">---------</text>
<text class="gp" transform="translate(1103.91 676) scale(1 1.045)" text-anchor="middle">Control</text>
<text class="ds" transform="translate(1201.05 661) scale(1 0.968)" text-anchor="middle">---------</text>
<text class="gp" transform="translate(1201.05 676) scale(1 1.045)" text-anchor="middle">MTX</text>
<text class="ds" transform="translate(1298.84 662) scale(1 1.037)" text-anchor="middle">---------</text>
<text class="gp" transform="translate(1299.84 677) scale(1 1.045)" text-anchor="middle">LDEMTX</text>
<text class="yl" transform="translate(1011.1 511.95) rotate(-90) scale(1 1.0)" text-anchor="middle">ADK protein expression (%)</text>
<text class="pl" transform="translate(1002.71 350.15) scale(0.976 1.04)">F</text>
</g>
<g class="chart" id="chartG">
<rect x="1481.4" y="473.95" width="29.4" height="157.15" fill="#ffffff" stroke="#000" stroke-width="2.5"/>
<path d="M1544.25 418.25V408.9M1536.5 408.9H1552" stroke="#000" stroke-width="1.7" fill="none"/>
<rect x="1529.55" y="418.25" width="29.4" height="212.85" fill="#ffffff" stroke="#000" stroke-width="2.5"/>
<path d="M1592.4 512.05V491.5M1584.65 491.5H1600.15" stroke="#000" stroke-width="1.7" fill="none"/>
<rect x="1577.7" y="512.05" width="29.4" height="119.05" fill="#d2d2d2" stroke="#000" stroke-width="2.5"/>
<rect x="1579.4" y="513.75" width="26" height="115.95" fill="none" stroke="#e9e9e9" stroke-width="1.1"/>
<path d="M1640.55 425.25V417.1M1632.8 417.1H1648.3" stroke="#000" stroke-width="1.7" fill="none"/>
<rect x="1625.85" y="425.25" width="29.4" height="205.85" fill="#d2d2d2" stroke="#000" stroke-width="2.5"/>
<rect x="1627.55" y="426.95" width="26" height="202.75" fill="none" stroke="#e9e9e9" stroke-width="1.1"/>
<path d="M1688.7 502.45V482.1M1680.95 482.1H1696.45" stroke="#000" stroke-width="1.7" fill="none"/>
<rect x="1674" y="502.45" width="29.4" height="128.65" fill="#5e5e5e" stroke="#000" stroke-width="2.5"/>
<rect x="1675.7" y="504.15" width="26" height="125.55" fill="none" stroke="#747474" stroke-width="1.1"/>
<path d="M1736.85 471.65V456.3M1729.1 456.3H1744.6" stroke="#000" stroke-width="1.7" fill="none"/>
<rect x="1722.15" y="471.65" width="29.4" height="159.45" fill="#5e5e5e" stroke="#000" stroke-width="2.5"/>
<rect x="1723.85" y="473.35" width="26" height="156.35" fill="none" stroke="#747474" stroke-width="1.1"/>
<path d="M1464 392.38V631.1M1456.5 631.1H1770" stroke="#000" stroke-width="2.45" fill="none"/>
<text class="tl" transform="translate(1454.9 635.4) scale(1 1.06)" text-anchor="end">0</text>
<text class="tl" transform="translate(1454.9 587.9) scale(1 1.06)" text-anchor="end">30</text>
<text class="tl" transform="translate(1454.9 540.4) scale(1 1.06)" text-anchor="end">60</text>
<text class="tl" transform="translate(1454.9 492.9) scale(1 1.06)" text-anchor="end">90</text>
<text class="tl" transform="translate(1454.9 445.4) scale(1 1.06)" text-anchor="end">120</text>
<text class="tl" transform="translate(1454.9 397.9) scale(1 1.06)" text-anchor="end">150</text>
<path d="M1456.6 583.6H1464M1456.6 536.1H1464M1456.6 488.6H1464M1456.6 441.1H1464M1456.6 393.6H1464M1496.1 631.1V639.1M1544.25 631.1V639.1M1592.4 631.1V639.1M1640.55 631.1V639.1M1688.7 631.1V639.1M1736.85 631.1V639.1" stroke="#000" stroke-width="2.45" fill="none"/>
<text class="tk" transform="translate(1496.1 653) scale(1 1.045)" text-anchor="middle">WT</text>
<text class="tk" transform="translate(1544.25 653) scale(1 1.045)" text-anchor="middle">MFS</text>
<text class="tk" transform="translate(1592.4 653) scale(1 1.045)" text-anchor="middle">WT</text>
<text class="tk" transform="translate(1640.55 653) scale(1 1.045)" text-anchor="middle">MFS</text>
<text class="tk" transform="translate(1688.7 653) scale(1 1.045)" text-anchor="middle">WT</text>
<text class="tk" transform="translate(1736.85 653) scale(1 1.045)" text-anchor="middle">MFS</text>
<text class="ds" transform="translate(1521.86 664) scale(1 0.998)" text-anchor="middle">---------</text>
<text class="gp" transform="translate(1521.31 678) scale(1 1.045)" text-anchor="middle">Control</text>
<text class="ds" transform="translate(1619 664) scale(1 1.177)" text-anchor="middle">---------</text>
<text class="gp" transform="translate(1619.15 678) scale(1 1.045)" text-anchor="middle">MTX</text>
<text class="ds" transform="translate(1714.49 664) scale(1 1.085)" text-anchor="middle">---------</text>
<text class="gp" transform="translate(1715.59 679) scale(1 1.045)" text-anchor="middle">LDEMTX</text>
<text class="yl" transform="translate(1426.1 512.15) rotate(-90) scale(1 1.0)" text-anchor="middle">ADA protein expression (%)</text>
<text class="an" transform="translate(1544.75 403) scale(1 1.0)" text-anchor="middle">a</text>
<text class="an" transform="translate(1640.75 407.5) scale(1 1.0)" text-anchor="middle">a,c</text>
<text class="an" transform="translate(1592.6 484.8) scale(1 1.0)" text-anchor="middle">b</text>
<text class="an" transform="translate(1688.9 475.8) scale(1 1.0)" text-anchor="middle">b,d</text>
<text class="pl" transform="translate(1421.52 350.4) scale(0.968 1.05)">G</text>
</g>
</svg>
</body>
</html>
